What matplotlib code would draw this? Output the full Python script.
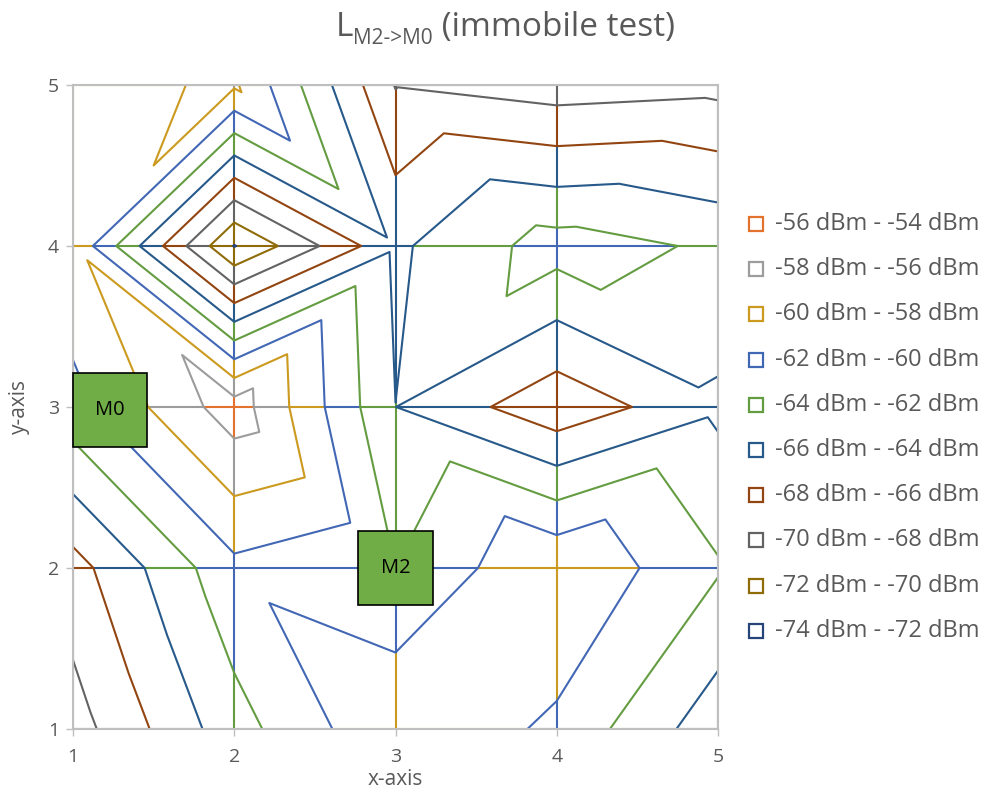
import numpy as np
import matplotlib
matplotlib.use('Agg')
import matplotlib.pyplot as plt
import matplotlib.tri as mtri
from matplotlib.collections import LineCollection
from matplotlib.lines import Line2D
from matplotlib.patches import Rectangle

plt.rcParams['font.family'] = ['Open Sans', 'DejaVu Sans']

# grid of measuring points
x_vals = [1, 2, 3, 4, 5]
y_vals = [1, 2, 3, 4, 5]
# received level in dBm, one row per y (1..5), one column per x (1..5)
z_rows = [
    [-70.9, -64.8, -60.2, -62.4, -67.25],
    [-68.8, -62.5, -63.99, -60.1, -63.8],
    [-62.7, -56.9, -65.99, -69.4, -66.4],
    [-60.3, -74.1, -66.35, -63.1, -64.3],
    [-60.7, -59.7, -70.1, -71.0, -70.6],
]
levels = [-74, -72, -70, -68, -66, -64, -62, -60, -58, -56]
level_colors = ['#264478', '#8F6C08', '#636363', '#924511', '#27598A',
                '#649C41', '#4267B5', '#CB9A1E', '#9C9C9C', '#E2722E']
band_labels = ['%d dBm - %d dBm' % (l, l + 2) for l in levels]

# node labels (boxes)
node_names = ['M0', 'M2']
node_x = [1.23, 3.0]
node_y = [2.98, 2.0]

grey = '#595959'

Z = np.array(z_rows)
X, Y = np.meshgrid(x_vals, y_vals)
nx = len(x_vals)

# split each cell in two triangles, diagonal through the higher pair
tris = []
for j in range(len(y_vals) - 1):
    for i in range(nx - 1):
        a = j * nx + i
        b = a + 1
        c = a + nx
        d = c + 1
        if Z[j, i] + Z[j + 1, i + 1] >= Z[j, i + 1] + Z[j + 1, i]:
            tris += [[a, b, d], [a, d, c]]
        else:
            tris += [[a, b, c], [b, d, c]]
tri = mtri.Triangulation(X.ravel(), Y.ravel(), tris)


def band_color(v):
    lev = int(np.ceil(v / 2.0) * 2)
    lev = min(max(lev, levels[0]), levels[-1])
    return level_colors[levels.index(lev)]


# grid lines coloured by band
segs, cols = [], []
edges = []
for j in range(len(y_vals)):
    for i in range(nx - 1):
        edges.append(((x_vals[i], y_vals[j], Z[j, i]), (x_vals[i + 1], y_vals[j], Z[j, i + 1])))
for i in range(nx):
    for j in range(len(y_vals) - 1):
        edges.append(((x_vals[i], y_vals[j], Z[j, i]), (x_vals[i], y_vals[j + 1], Z[j + 1, i])))
for (x0, y0, v0), (x1, y1, v1) in edges:
    ts = [0.0, 1.0]
    for l in levels:
        if (l - v0) * (l - v1) < 0:
            ts.append((l - v0) / (v1 - v0))
    ts = sorted(ts)
    for ta, tb in zip(ts[:-1], ts[1:]):
        vm = v0 + (v1 - v0) * (ta + tb) / 2
        segs.append([(x0 + (x1 - x0) * ta, y0 + (y1 - y0) * ta),
                     (x0 + (x1 - x0) * tb, y0 + (y1 - y0) * tb)])
        cols.append(band_color(vm))

fig = plt.figure(figsize=(9.93, 8.0), dpi=100)
ax = fig.add_axes([73 / 993, 71 / 800, 645 / 993, 644 / 800])

ax.add_collection(LineCollection(segs, colors=cols, linewidths=1.5, zorder=2))
ax.tricontour(tri, Z.ravel(), levels=levels, colors=level_colors, linewidths=1.5, zorder=3)

for name, nxp, nyp in zip(node_names, node_x, node_y):
    ax.add_patch(Rectangle((nxp - 0.23, nyp - 0.23), 0.46, 0.46, facecolor='#70AD47',
                           edgecolor='black', linewidth=1.2, zorder=5, clip_on=False))
    ax.text(nxp, nyp, name, ha='center', va='center', fontsize=14.5, color='black', zorder=6)

ax.set_xlim(1, 5)
ax.set_ylim(1, 5)
ax.set_xticks(x_vals)
ax.set_yticks(y_vals)
ax.tick_params(colors='#BFBFBF', labelcolor=grey, labelsize=14, length=5, width=1)
ax.tick_params(axis='x', pad=9)
ax.tick_params(axis='y', pad=5)
for s in ax.spines.values():
    s.set_color('#BFBFBF')
    s.set_linewidth(1.5)
    s.set_zorder(4)
ax.set_xlabel('x-axis', fontsize=15, color=grey, labelpad=2)
ax.set_ylabel('y-axis', fontsize=15, color=grey, labelpad=13)

# legend, top to bottom
for k, idx in enumerate(range(len(levels) - 1, -1, -1)):
    yy = 1 - (224 + k * 45.2) / 800
    fig.add_artist(Line2D([756 / 993], [yy], marker='s', markersize=10, markerfacecolor='white',
                          markeredgecolor=level_colors[idx], markeredgewidth=1.6, linestyle='none'))
    fig.text(775 / 993, yy, band_labels[idx], fontsize=17, color=grey, va='center', ha='left')

# title with subscript
fig.canvas.draw()
r = fig.canvas.get_renderer()
base_y = 1 - 36 / 800
t1 = fig.text(0, base_y, 'L', fontsize=24, color=grey, va='baseline')
t2 = fig.text(0, base_y - 8 / 800, 'M2->M0', fontsize=15, color=grey, va='baseline')
t3 = fig.text(0, base_y, ' (immobile test)', fontsize=24, color=grey, va='baseline')
w = [t.get_window_extent(r).width for t in (t1, t2, t3)]
x0 = 505 - sum(w) / 2
t1.set_x(x0 / 993)
t2.set_x((x0 + w[0]) / 993)
t3.set_x((x0 + w[0] + w[1]) / 993)

fig.savefig('out.png', dpi=100)
